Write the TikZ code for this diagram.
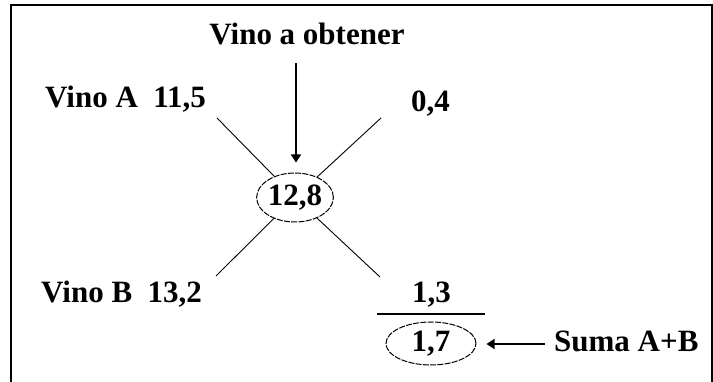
\documentclass[tikz,border=0pt]{standalone}
\usepackage{fontspec}
\setmainfont{Liberation Serif}
\usetikzlibrary{shapes.geometric,arrows.meta}
\begin{document}
\begin{tikzpicture}[x=1pt,y=-1pt,
  txt/.style={font=\fontsize{31}{37}\selectfont\bfseries},
  lbl/.style={txt, inner sep=0pt},
  ov/.style={txt, ellipse, draw, line width=1pt, dash pattern=on 6pt off 1.3pt, inner sep=0pt},
  spoke/.style={line width=0.9pt},
  arr/.style={line width=1.6pt, -{Triangle[length=8pt,width=10pt]}},
  frame/.style={line width=2pt}]
\useasboundingbox (0,0) rectangle (713,382);
\draw[frame] (712,400) -- (712,5) -- (11,5) -- (11,400);
% central and result ellipses
\node[ov, minimum width=76pt, minimum height=49pt] (c) at (295,197.5) {12,8};
\node[ov, minimum width=90pt, minimum height=43pt] (r) at (431,343.5) {1,7};
% labels
\node[lbl, anchor=base] (top) at (307,45) {Vino a obtener};
\node[lbl, anchor=base west] (va) at (45,108) {Vino A\ \ 11,5};
\node[lbl, anchor=base west] (d04) at (411,112) {0,4};
\node[lbl, anchor=base west] (vb) at (41,303) {Vino B\ \ 13,2};
\node[lbl, anchor=base west] (d13) at (412,303) {1,3};
\node[lbl, anchor=base west] (sum) at (554,352) {Suma A+B};
% free ends
\coordinate (nw) at (217,118);
\coordinate (ne) at (381,118);
\coordinate (sw) at (216,276);
\coordinate (se) at (380,277);
\coordinate (at) at (296,63);
\coordinate (st) at (545,344);
\coordinate (bl) at (377,314);
\coordinate (br) at (485,314);
% spokes
\draw[spoke] (nw) -- (c);
\draw[spoke] (ne) -- (c);
\draw[spoke] (sw) -- (c);
\draw[spoke] (se) -- (c);
% arrows
\draw[arr, shorten >=10pt] (at) -- (at |- c.north);
\draw[arr, line width=1.4pt, shorten >=10pt] (st) -- (st -| r.east);
% fraction bar
\draw[line width=1.5pt] (bl) -- (br);
\end{tikzpicture}
\end{document}
